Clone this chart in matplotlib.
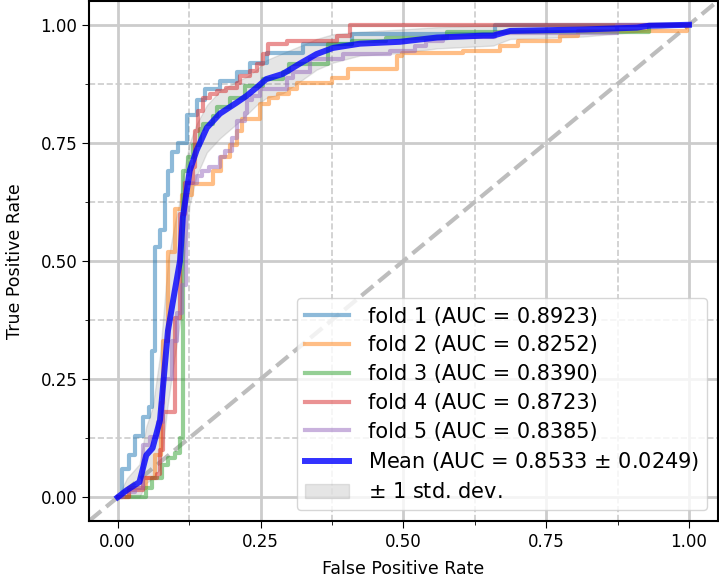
import numpy as np
import matplotlib
matplotlib.use("Agg")
from matplotlib import pyplot as plt
from matplotlib.ticker import MultipleLocator


# fold curves, (fpr, tpr) corners
fold1_fpr = [0, 0.007, 0.02, 0.03, 0.045, 0.055, 0.06, 0.065, 0.074, 0.082, 0.088, 0.095, 0.105, 0.121, 0.138, 0.152, 0.179, 0.208, 0.231, 0.261, 0.324, 0.41, 0.66, 1.0]
fold1_tpr = [0, 0.06, 0.09, 0.13, 0.17, 0.19, 0.31, 0.53, 0.565, 0.64, 0.69, 0.73, 0.75, 0.81, 0.84, 0.865, 0.88, 0.90, 0.92, 0.94, 0.96, 0.98, 1.0, 1.0]

fold2_fpr = [0, 0.02, 0.05, 0.065, 0.075, 0.08, 0.088, 0.1, 0.112, 0.13, 0.166, 0.18, 0.196, 0.208, 0.217, 0.249, 0.265, 0.28, 0.3, 0.313, 0.375, 0.403, 0.489, 0.497, 0.604, 0.669, 0.7, 0.774, 0.806, 0.997, 1.0]
fold2_tpr = [0, 0.02, 0.04, 0.09, 0.2, 0.33, 0.52, 0.61, 0.64, 0.664, 0.69, 0.72, 0.745, 0.776, 0.80, 0.833, 0.845, 0.854, 0.865, 0.877, 0.888, 0.907, 0.934, 0.94, 0.945, 0.955, 0.966, 0.977, 0.987, 1.0, 1.0]

fold3_fpr = [0, 0.05, 0.06, 0.077, 0.088, 0.1, 0.109, 0.114, 0.123, 0.131, 0.144, 0.149, 0.166, 0.173, 0.196, 0.222, 0.254, 0.29, 0.3, 0.368, 0.41, 0.47, 0.576, 0.93, 1.0]
fold3_tpr = [0, 0.02, 0.04, 0.068, 0.082, 0.093, 0.125, 0.69, 0.72, 0.745, 0.78, 0.79, 0.807, 0.825, 0.846, 0.87, 0.886, 0.90, 0.918, 0.96, 0.966, 0.972, 0.985, 1.0, 1.0]

fold4_fpr = [0, 0.02, 0.044, 0.068, 0.074, 0.08, 0.1, 0.109, 0.117, 0.131, 0.135, 0.14, 0.149, 0.161, 0.173, 0.19, 0.208, 0.214, 0.231, 0.243, 0.254, 0.263, 0.296, 0.383, 0.406, 1.0]
fold4_tpr = [0, 0.015, 0.04, 0.05, 0.1, 0.18, 0.38, 0.6, 0.666, 0.70, 0.776, 0.818, 0.846, 0.854, 0.86, 0.867, 0.877, 0.892, 0.903, 0.918, 0.939, 0.96, 0.966, 0.977, 1.0, 1.0]

fold5_fpr = [0, 0.01, 0.03, 0.044, 0.056, 0.07, 0.079, 0.095, 0.103, 0.112, 0.12, 0.138, 0.147, 0.16, 0.179, 0.188, 0.2, 0.208, 0.222, 0.226, 0.235, 0.249, 0.296, 0.306, 0.336, 0.394, 0.476, 0.52, 0.54, 0.57, 0.66, 0.874, 1.0]
fold5_tpr = [0, 0.01, 0.02, 0.11, 0.127, 0.16, 0.25, 0.33, 0.39, 0.45, 0.666, 0.68, 0.69, 0.70, 0.72, 0.733, 0.76, 0.797, 0.814, 0.84, 0.85, 0.865, 0.888, 0.9, 0.928, 0.939, 0.945, 0.955, 0.966, 0.975, 0.983, 1.0, 1.0]

fold_aucs = [0.8923, 0.8252, 0.8390, 0.8723, 0.8385]
mean_auc = 0.8533
std_auc = 0.0249

# mean curve and +/- 1 std band
mean_fpr = [0, 0.016, 0.038, 0.05, 0.061, 0.074, 0.088, 0.1, 0.109, 0.114, 0.126, 0.138, 0.156, 0.179, 0.208, 0.226, 0.243, 0.26, 0.289, 0.319, 0.348, 0.377, 0.424, 0.494, 0.559, 0.64, 0.657, 0.687, 0.814, 0.909, 0.93, 1.0]
mean_tpr = [0, 0.015, 0.032, 0.089, 0.104, 0.163, 0.353, 0.438, 0.5, 0.592, 0.691, 0.734, 0.782, 0.812, 0.835, 0.85, 0.867, 0.885, 0.896, 0.918, 0.938, 0.951, 0.96, 0.964, 0.973, 0.977, 0.977, 0.987, 0.99, 0.994, 0.998, 1.0]
tpr_upper = [0, 0.04, 0.07, 0.15, 0.19, 0.30, 0.50, 0.58, 0.63, 0.68, 0.75, 0.79, 0.83, 0.86, 0.88, 0.89, 0.905, 0.925, 0.94, 0.955, 0.97, 0.98, 0.985, 0.99, 0.995, 0.998, 0.998, 1.0, 1.0, 1.0, 1.0, 1.0]
tpr_lower = [0, 0.0, 0.0, 0.03, 0.04, 0.06, 0.2, 0.3, 0.37, 0.48, 0.62, 0.68, 0.73, 0.76, 0.79, 0.81, 0.83, 0.845, 0.855, 0.88, 0.905, 0.92, 0.935, 0.94, 0.95, 0.955, 0.956, 0.97, 0.975, 0.985, 0.99, 1.0]


def main():
    fig, ax = plt.subplots(figsize=(7.19, 5.8), dpi=100)
    fig.subplots_adjust(left=0.124, right=0.998, top=0.998, bottom=0.102)

    folds = [(fold1_fpr, fold1_tpr), (fold2_fpr, fold2_tpr), (fold3_fpr, fold3_tpr),
             (fold4_fpr, fold4_tpr), (fold5_fpr, fold5_tpr)]
    for i, (f, t) in enumerate(folds):
        ax.plot(f, t, drawstyle="steps-post", lw=3, alpha=0.5, color="C%d" % i,
                label="fold %d (AUC = %.4f)" % (i + 1, fold_aucs[i]))

    # chance line
    ax.axline((0, 0), (1, 1), ls="--", lw=3, color="#bdbdbd", zorder=1)

    ax.plot(mean_fpr, mean_tpr, color="b", lw=4.3, alpha=0.8,
            label=r"Mean (AUC = %.4f $\pm$ %.4f)" % (mean_auc, std_auc))
    ax.fill_between(mean_fpr, tpr_lower, tpr_upper, color="grey", alpha=0.2,
                    label=r"$\pm$ 1 std. dev.")

    ax.set_xlim(-0.05, 1.05)
    ax.set_ylim(-0.05, 1.05)
    ax.xaxis.set_major_locator(MultipleLocator(0.25))
    ax.yaxis.set_major_locator(MultipleLocator(0.25))
    ax.xaxis.set_minor_locator(MultipleLocator(0.125))
    ax.yaxis.set_minor_locator(MultipleLocator(0.125))
    ax.grid(which="major", color="#cccccc", lw=2, ls="-")
    ax.grid(which="minor", color="#cccccc", lw=1.2, ls="--")
    ax.set_axisbelow(True)
    ax.tick_params(which="major", labelsize=12, length=5)
    ax.tick_params(which="minor", length=3)
    for s in ax.spines.values():
        s.set_linewidth(1.5)

    ax.set_xlabel("False Positive Rate", fontsize=12.5, labelpad=7)
    ax.set_ylabel("True Positive Rate", fontsize=12.5, labelpad=12)
    ax.legend(loc="lower right", fontsize=15, labelspacing=0.42,
              handlelength=2.1, handletextpad=0.9)

    fig.savefig("out.png", dpi=100)


if __name__ == "__main__":
    main()
